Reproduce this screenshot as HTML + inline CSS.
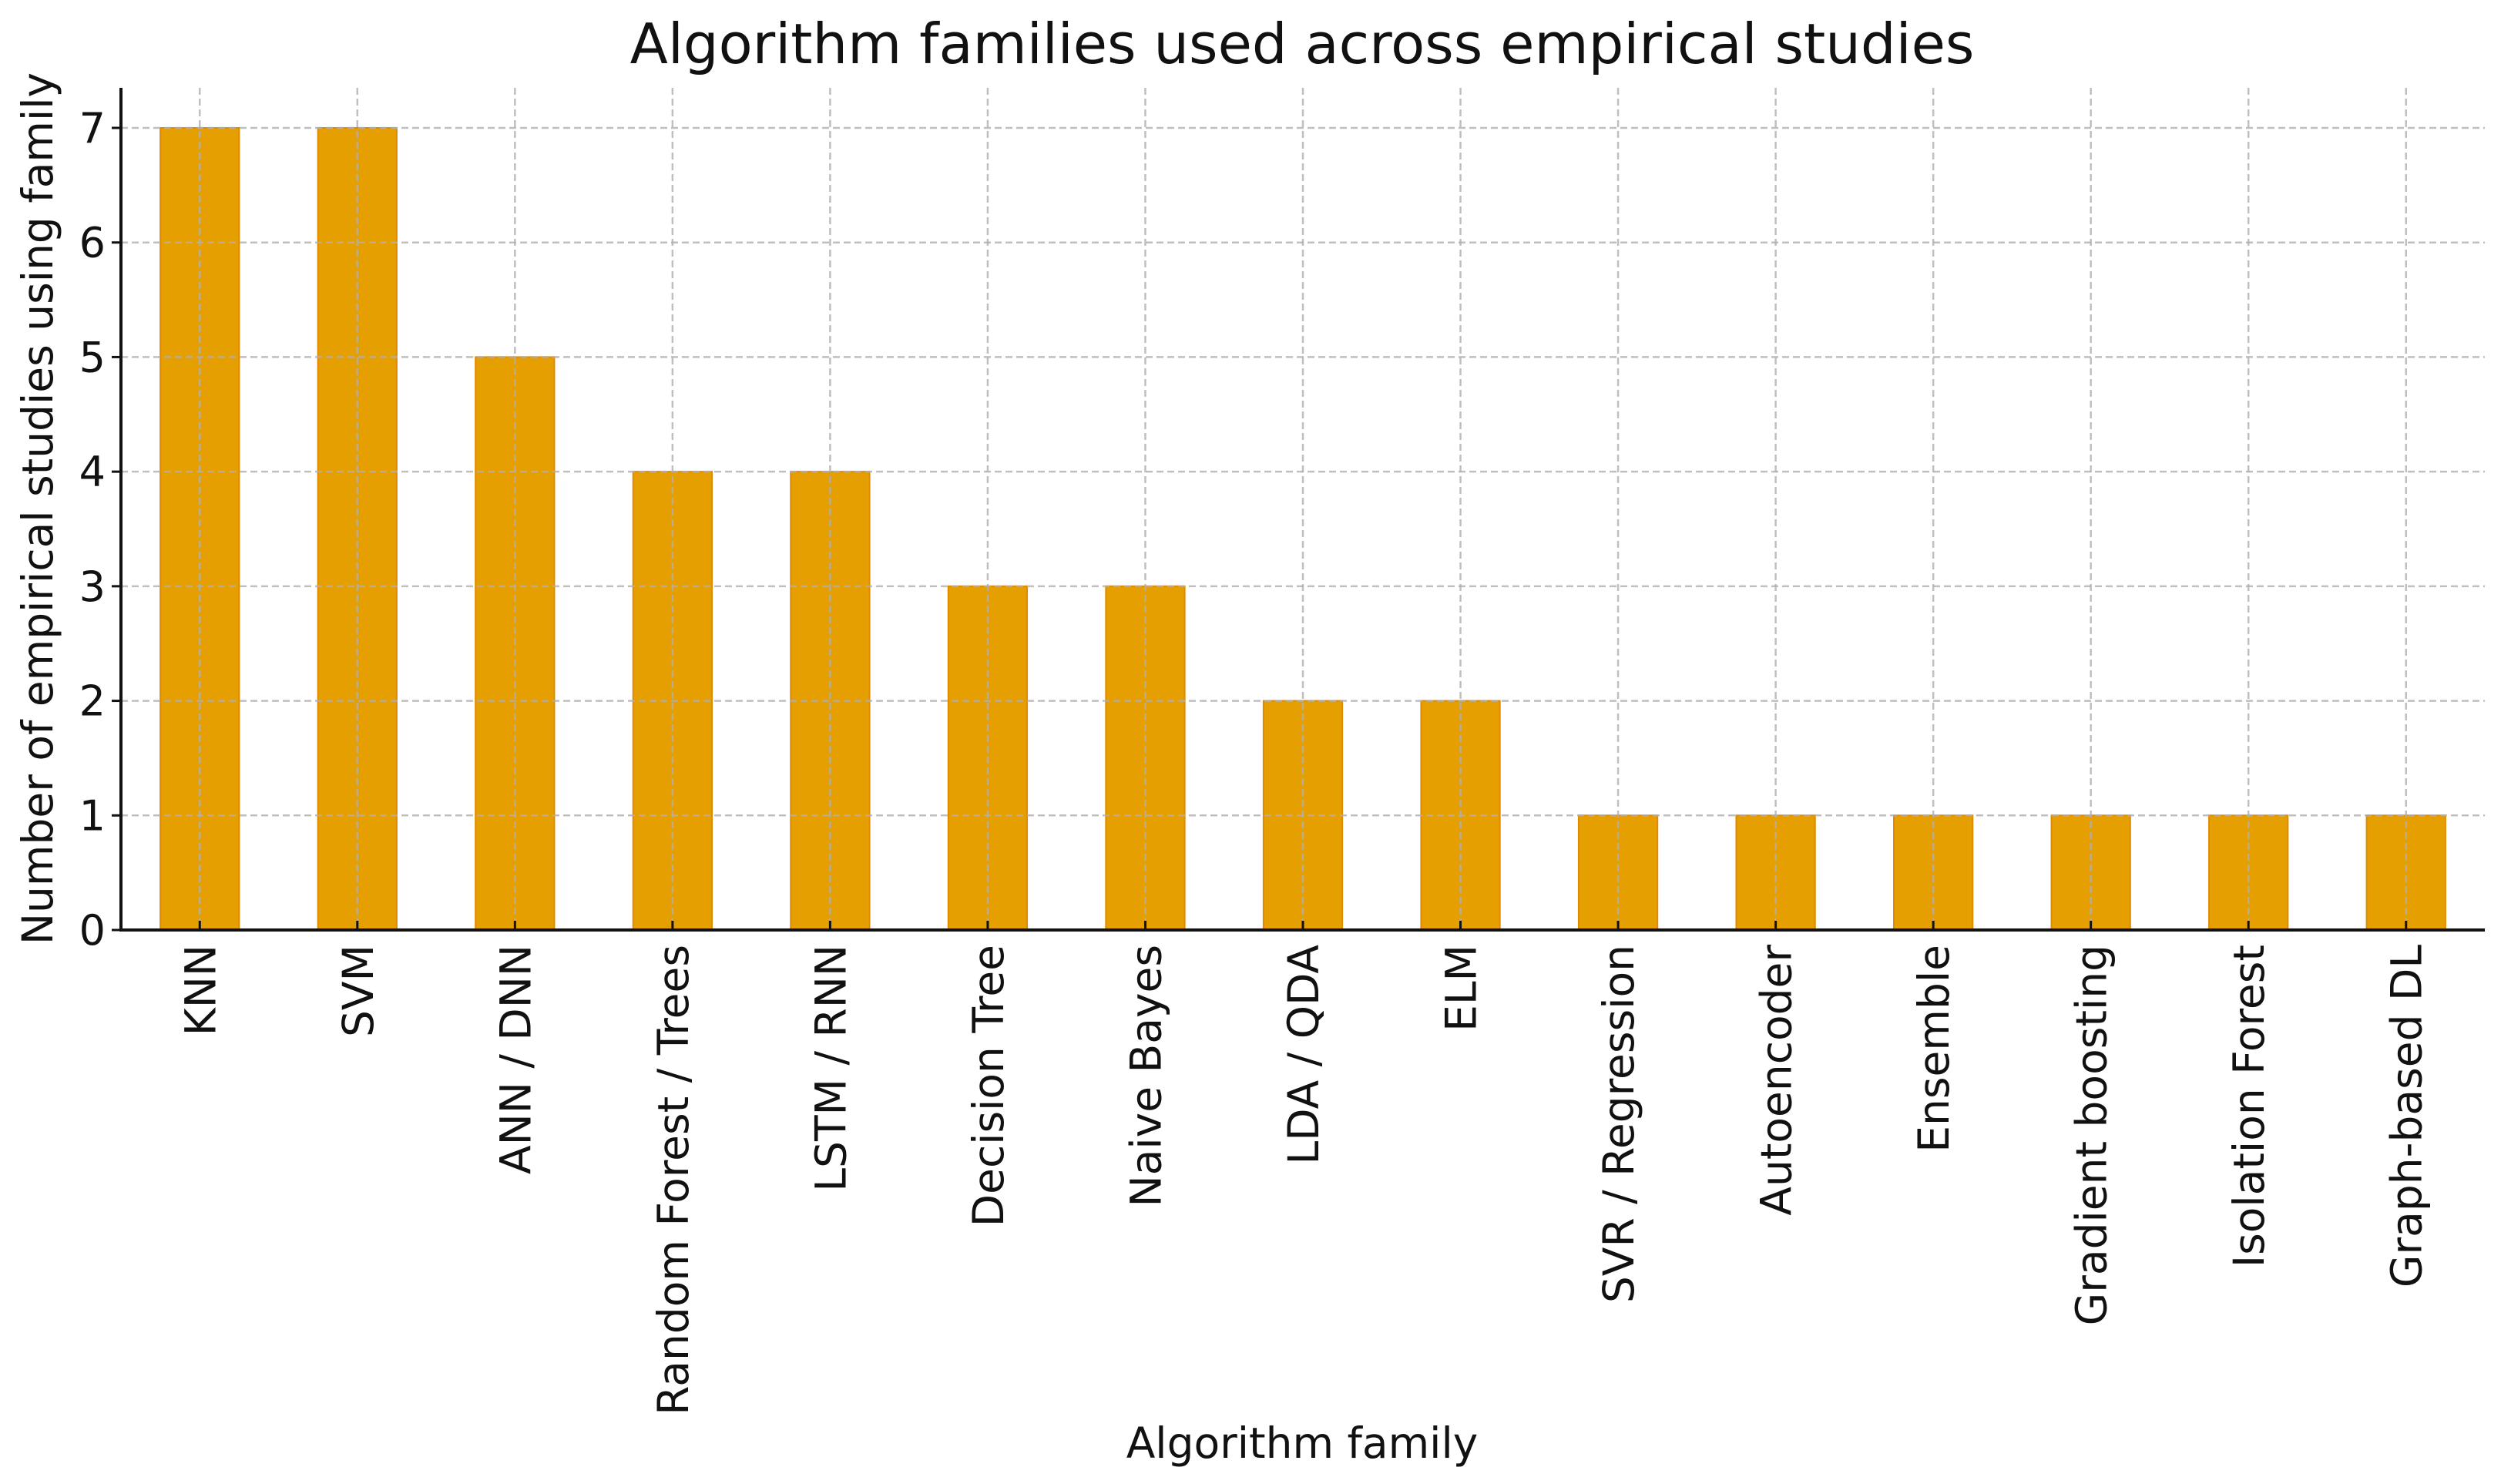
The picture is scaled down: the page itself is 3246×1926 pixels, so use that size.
<!DOCTYPE html>
<html><head><meta charset="utf-8">
<style>
html,body{margin:0;padding:0;background:#fff;}
svg{display:block;font-family:"DejaVu Sans","Liberation Sans",sans-serif;}
</style></head>
<body>
<svg id="chart" width="3246" height="1926" viewBox="0 0 3246 1926" xmlns="http://www.w3.org/2000/svg">
<rect width="3246" height="1926" fill="#fff"/>
<text x="1690" y="82" font-size="72" text-anchor="middle" fill="#111">Algorithm families used across empirical studies</text>
<g id="grid"></g>
<g id="bars"></g>
<g id="gridTop"></g>
<g id="axes"></g>
<text x="1690" y="1892" font-size="55" text-anchor="middle" fill="#111">Algorithm family</text>
<text transform="translate(68,660) rotate(-90)" font-size="55" text-anchor="middle" fill="#111">Number of empirical studies using family</text>
</svg>
<script>
const categories = ["KNN","SVM","ANN / DNN","Random Forest / Trees","LSTM / RNN","Decision Tree","Naive Bayes","LDA / QDA","ELM","SVR / Regression","Autoencoder","Ensemble","Gradient boosting","Isolation Forest","Graph-based DL"];
const counts = [7,7,5,4,4,3,3,2,2,1,1,1,1,1,1];
const yTicks = [0,1,2,3,4,5,6,7];

const NS = "http://www.w3.org/2000/svg";
const plotLeft = 157, plotRight = 3225, plotTop = 114, plotBase = 1207;
const yMax = 7, yTopPx = 166;
const step = (plotRight - plotLeft) / categories.length;
function xPos(i){ return plotLeft + step * (i + 0.5); }
function yPos(v){ return plotBase - (plotBase - yTopPx) * v / yMax; }
function mk(tag, attrs, parent){
  const e = document.createElementNS(NS, tag);
  for (const k in attrs) e.setAttribute(k, attrs[k]);
  parent.appendChild(e);
  return e;
}
const barsG = document.getElementById('bars');
const gridTopG = document.getElementById('gridTop');
const axesG = document.getElementById('axes');

yTicks.forEach(function(t){
  const y = yPos(t);
  const g = mk('line', {x1:plotLeft, x2:plotRight, y1:y, y2:y, stroke:'#b0b0b0', 'stroke-width':2.5, 'stroke-dasharray':'9,5', opacity:0.8}, gridTopG);
  
  
  const tk = mk('line', {x1:plotLeft-12, x2:plotLeft, y1:y, y2:y, stroke:'#111', 'stroke-width':3}, axesG);
  
  
  const lb = mk('text', {x:plotLeft-20, y:y+19, 'font-size':54, 'text-anchor':'end', fill:'#111'}, axesG);
  lb.textContent = t;
  
  
});

categories.forEach(function(c, i){
  const x = xPos(i);
  const w = step * 0.5;
  const r = mk('rect', {x:x-w/2, y:yPos(counts[i]), width:w, height:plotBase-yPos(counts[i]), fill:'#E69F00', stroke:'#E08A00', 'stroke-width':2}, barsG);
  
  
  const g = mk('line', {x1:x, x2:x, y1:plotTop, y2:plotBase, stroke:'#b0b0b0', 'stroke-width':2.5, 'stroke-dasharray':'9,5', opacity:0.8}, gridTopG);
  
  
  const tk = mk('line', {x1:x, x2:x, y1:plotBase, y2:plotBase-12, stroke:'#111', 'stroke-width':3}, axesG);
  
  
  const lb = mk('text', {transform:'translate(' + (x+20) + ',1226) rotate(-90)', 'font-size':55, 'text-anchor':'end', fill:'#111'}, axesG);
  lb.textContent = c;
  
  
});

const ya = mk('line', {x1:plotLeft, x2:plotLeft, y1:plotTop, y2:plotBase+1.5, stroke:'#111', 'stroke-width':4}, axesG);


const xa = mk('line', {x1:plotLeft-2, x2:plotRight, y1:plotBase, y2:plotBase, stroke:'#111', 'stroke-width':4}, axesG);


</script>
</body></html>
